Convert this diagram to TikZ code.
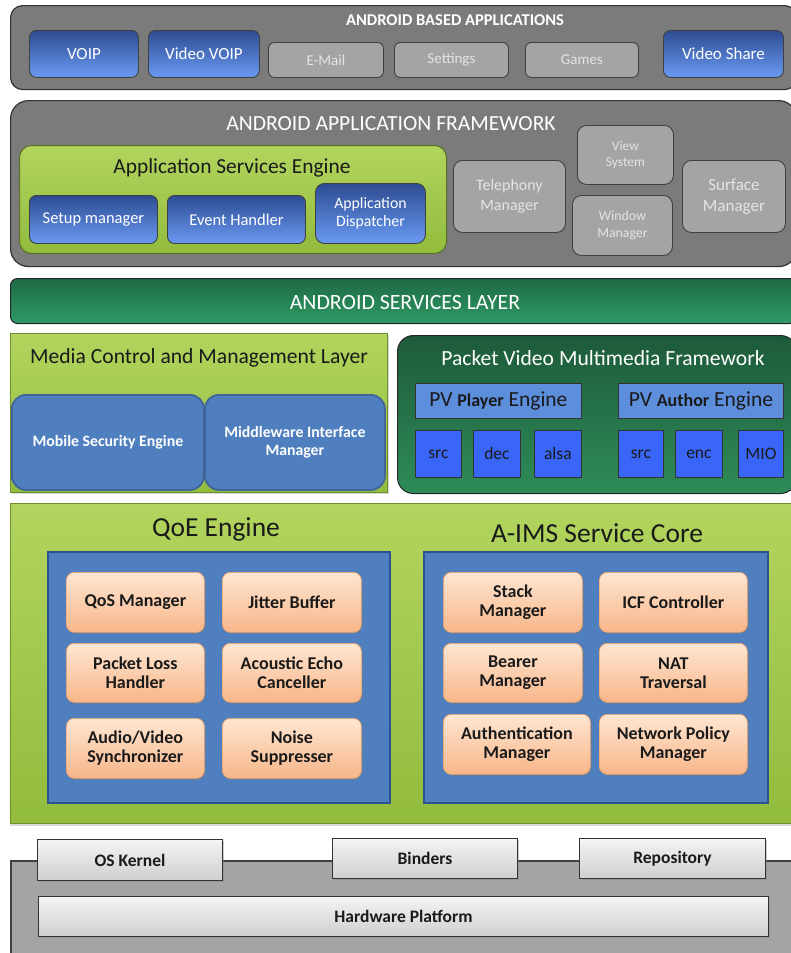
\documentclass[tikz,border=0pt]{standalone}
\usepackage{fontspec}
\setmainfont{Carlito}
\usetikzlibrary{shadows}
\definecolor{panelgray}{HTML}{7B7B7B}
\definecolor{btngray}{HTML}{A4A4A4}
\definecolor{btntext}{HTML}{E4E4E4}
\definecolor{bluetop}{HTML}{2D4C92}
\definecolor{bluebot}{HTML}{6A9AF2}
\definecolor{limetop}{HTML}{B2D45E}
\definecolor{limebot}{HTML}{92BC3E}
\definecolor{limeedge}{HTML}{6E8F2E}
\definecolor{svcdark}{HTML}{1E6A45}
\definecolor{svclight}{HTML}{2F9A64}
\definecolor{pvdark}{HTML}{1D5A3A}
\definecolor{pvlight}{HTML}{2E8C58}
\definecolor{steel}{HTML}{4F7FBE}
\definecolor{steeledge}{HTML}{2C5390}
\definecolor{pvbar}{HTML}{5C8EDB}
\definecolor{brightblue}{HTML}{3966F7}
\definecolor{orangetop}{HTML}{FEE6D2}
\definecolor{orangebot}{HTML}{F8B689}
\definecolor{orangeedge}{HTML}{EFA064}
\definecolor{kerneltop}{HTML}{F4F4F4}
\definecolor{kernelbot}{HTML}{CFCFCF}
\definecolor{darktext}{HTML}{1A1A1A}
\newcommand\bx[7]{\node[#2, anchor=north west, minimum width={(#5-#3)*1pt}, minimum height={(#6-#4)*1pt}, inner sep=0pt, align=center] (#1) at (#3,#4) {#7};}
\newcommand\fs[1]{\fontsize{#1}{#1}\selectfont}
\tikzset{
  panel/.style={draw=black!80, line width=1.2pt, fill=panelgray, rounded corners=12pt},
  bluebtn/.style={draw=black!75, line width=0.9pt, rounded corners=7pt, top color=bluetop, bottom color=bluebot, text=white},
  graybtn/.style={draw=black!75, line width=0.9pt, rounded corners=6pt, fill=btngray, text=btntext},
  limepanel/.style={draw=limeedge, line width=0.8pt, top color=limetop, bottom color=limebot},
  steelbox/.style={draw=steeledge, line width=1.5pt, fill=steel},
  orangebox/.style={draw=orangeedge, line width=0.7pt, rounded corners=8pt, top color=orangetop, bottom color=orangebot, text=darktext, font=\bfseries\fs{18}, drop shadow={shadow xshift=1.5pt, shadow yshift=-1.5pt, opacity=0.35}},
  pvbarbox/.style={draw=black!80, line width=0.8pt, fill=pvbar, text=darktext},
  srcbox/.style={draw=black!80, line width=0.8pt, fill=brightblue, text=darktext},
  kernelbox/.style={draw=black!80, line width=1pt, top color=kerneltop, bottom color=kernelbot, text=darktext, font=\bfseries\fs{17.5}, drop shadow={shadow xshift=1.5pt, shadow yshift=-1.5pt, opacity=0.4}},
  title/.style={inner sep=0pt}
}
\begin{document}
\begin{tikzpicture}[x=1pt, y=-1pt]
\useasboundingbox (0,0) rectangle (790,953);

% ---------------- Android based applications
\bx{apps}{panel}{10}{5}{796}{89}{}
\node[title, text=white, font=\bfseries\fs{16.5}] (appst) at (455,20) {ANDROID BASED APPLICATIONS};
\bx{voip}{bluebtn, font=\fs{17}}{29}{30}{138}{77}{VOIP}
\bx{vvoip}{bluebtn, font=\fs{17}}{148}{30}{259}{77}{Video VOIP}
\bx{email}{graybtn, font=\fs{15}}{268}{42}{383}{77}{\raisebox{-3pt}{E-Mail}}
\bx{settings}{graybtn, font=\fs{15}}{394}{42}{508}{77}{\raisebox{-3pt}{Settings}}
\bx{games}{graybtn, font=\fs{15}}{525}{42}{638}{77}{\raisebox{-3pt}{Games}}
\bx{vshare}{bluebtn, font=\fs{17}}{663}{30}{783}{77}{Video Share}

% ---------------- Android application framework
\bx{fw}{panel, rounded corners=18pt}{10}{100}{796}{266}{}
\node[title, text=white, font=\fs{21.6}] (fwt) at (391,124) {ANDROID APPLICATION FRAMEWORK};
\bx{ase}{limepanel, rounded corners=12pt, draw=limeedge!80!black, line width=1pt}{19}{145}{446}{253}{}
\node[title, text=darktext, font=\fs{21.4}] (aset) at (232,168) {Application Services Engine};
\bx{setup}{bluebtn, font=\fs{16.5}}{29}{195}{157}{243}{Setup manager}
\bx{event}{bluebtn, font=\fs{16.5}}{167}{195}{305}{243}{Event Handler}
\bx{disp}{bluebtn, font=\fs{15.8}, rounded corners=9pt}{315}{183}{425}{243}{Application\\[2pt]Dispatcher}
\bx{tele}{graybtn, font=\fs{16}, rounded corners=9pt}{453}{160}{565}{232}{Telephony\\[4pt]Manager}
\bx{view}{graybtn, font=\fs{13.5}, rounded corners=9pt}{577}{125}{673}{184}{View\\[3pt]System}
\bx{window}{graybtn, font=\fs{13.8}, rounded corners=9pt}{572}{195}{672}{255}{Window\\[3pt]Manager}
\bx{surface}{graybtn, font=\fs{17}, rounded corners=9pt}{682}{160}{785}{232}{Surface\\[4pt]Manager}

% ---------------- Android services layer
\bx{svc}{draw=black!85, line width=1pt, rounded corners=7pt, top color=svcdark, bottom color=svclight}{10}{278}{796}{323}{}
\node[title, text=white, font=\fs{21.8}] (svct) at (405,302) {ANDROID SERVICES LAYER};

% ---------------- Media control and management layer
\bx{media}{limepanel, drop shadow={shadow xshift=1.5pt, shadow yshift=-1.5pt, opacity=0.3}}{10}{333}{387}{492}{}
\node[title, text=darktext, font=\fs{21.6}] (mediat) at (199,358) {Media Control and Management Layer};
\bx{mse}{steelbox, rounded corners=14pt, draw=steeledge!90, line width=1.8pt, text=white, font=\bfseries\fs{15.8}}{11}{394}{203}{489}{Mobile Security Engine}
\bx{mim}{steelbox, rounded corners=14pt, draw=steeledge!90, line width=1.8pt, text=white, font=\bfseries\fs{15.8}}{204}{394}{384}{489}{Middleware Interface\\[2pt]Manager}

% ---------------- Packet video multimedia framework
\bx{pv}{draw=black!85, line width=1pt, rounded corners=16pt, top color=pvdark, bottom color=pvlight}{397}{335}{796}{493}{}
\node[title, text=white, font=\fs{21.6}] (pvt) at (603,358) {Packet Video Multimedia Framework};
\bx{player}{pvbarbox, font=\fs{21.5}}{415}{383}{581}{418}{PV {\bfseries\fs{18}Player} Engine}
\bx{author}{pvbarbox, font=\fs{21.5}}{618}{383}{783}{418}{PV {\bfseries\fs{18}Author} Engine}
\bx{src}{srcbox, font=\fs{17.5}}{415}{430}{461}{477}{src}
\bx{dec}{srcbox, font=\fs{17.5}}{473}{430}{520}{477}{dec}
\bx{alsa}{srcbox, font=\fs{17.5}}{534}{430}{581}{477}{alsa}
\bx{srcb}{srcbox, font=\fs{17.5}}{618}{430}{663}{477}{src}
\bx{enc}{srcbox, font=\fs{17.5}}{675}{430}{722}{477}{enc}
\bx{mio}{srcbox, font=\fs{17.5}}{738}{430}{783}{477}{MIO}

% ---------------- QoE / A-IMS
\bx{qoepanel}{limepanel, drop shadow={shadow xshift=0pt, shadow yshift=-3pt, opacity=0.3}}{10}{503}{796}{823}{}
\node[title, text=darktext, font=\fs{27.5}] (qoet) at (216,529) {QoE Engine};
\node[title, text=darktext, font=\fs{27.5}] (imst) at (597,533) {A-IMS Service Core};
\bx{qoe}{steelbox}{47}{551}{389}{802}{}
\bx{ims}{steelbox}{423}{551}{767}{802}{}
\bx{qos}{orangebox}{66}{572}{204}{632}{QoS Manager}
\bx{jitter}{orangebox}{222}{572}{361}{632}{Jitter Buffer}
\bx{ploss}{orangebox}{66}{643}{204}{702}{Packet Loss\\[1pt]Handler}
\bx{aec}{orangebox}{222}{643}{361}{702}{Acoustic Echo\\[1pt]Canceller}
\bx{avs}{orangebox}{66}{718}{204}{778}{Audio/Video\\[1pt]Synchronizer}
\bx{noise}{orangebox}{222}{718}{361}{778}{Noise\\[1pt]Suppresser}
\bx{stack}{orangebox}{443}{572}{582}{632}{Stack\\[1pt]Manager}
\bx{icf}{orangebox}{599}{572}{747}{632}{ICF Controller}
\bx{bearer}{orangebox}{443}{643}{582}{702}{Bearer\\[1pt]Manager}
\bx{nat}{orangebox}{599}{643}{747}{702}{NAT\\[1pt]Traversal}
\bx{auth}{orangebox}{443}{714}{590}{774}{Authentication\\[1pt]Manager}
\bx{netpol}{orangebox}{599}{714}{747}{774}{Network Policy\\[1pt]Manager}

% ---------------- Kernel / hardware
\bx{base}{draw=black!75, line width=1.5pt, fill=btngray}{10}{860}{800}{960}{}
\bx{kernel}{kernelbox}{37}{839}{222}{880}{OS Kernel}
\bx{binders}{kernelbox}{332}{838}{517}{878}{Binders}
\bx{repo}{kernelbox}{579}{838}{765}{878}{Repository}
\bx{hw}{kernelbox}{38}{896}{768}{936}{Hardware Platform}
\end{tikzpicture}
\end{document}
